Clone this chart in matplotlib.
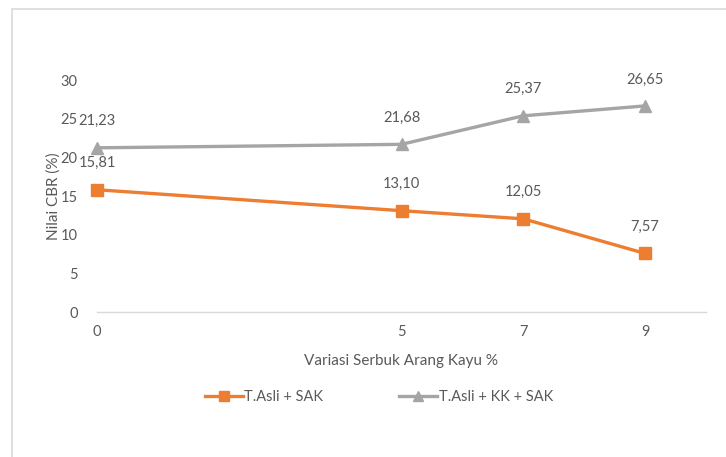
import matplotlib.pyplot as plt
from matplotlib.patches import Rectangle
from matplotlib.lines import Line2D

# Data
variasi = [0, 5, 7, 9]
asli_sak = [15.81, 13.10, 12.05, 7.57]
asli_kk_sak = [21.23, 21.68, 25.37, 26.65]
series_names = ["T.Asli + SAK", "T.Asli + KK + SAK"]
y_ticks = [0, 5, 10, 15, 20, 25, 30]

ORANGE = "#ED7D31"
GRAY = "#A5A5A5"
TEXT = "#595959"

plt.rcParams["font.family"] = ["Lato", "DejaVu Sans"]

fig = plt.figure(figsize=(7.26, 4.57), dpi=100)
W, H = 726, 457

# chart frame
fig.patches.append(Rectangle((12 / W, -0.05), 1.2, 1 - 9 / H + 0.05,
                             transform=fig.transFigure, fill=False,
                             edgecolor="#D9D9D9", linewidth=1.2))

ax = fig.add_axes([97 / W, 1 - 312 / H, (706 - 97) / W, (312 - 80) / H])
ax.set_xlim(0, 10)
ax.set_ylim(0, 30)

ax.plot(variasi, asli_sak, color=ORANGE, lw=2.4, marker="s", ms=9,
        label=series_names[0], clip_on=False)
ax.plot(variasi, asli_kk_sak, color=GRAY, lw=2.4, marker="^", ms=9,
        label=series_names[1], clip_on=False)

for xs, ys in ((variasi, asli_sak), (variasi, asli_kk_sak)):
    for x, y in zip(xs, ys):
        ax.annotate(f"{y:.2f}".replace(".", ","), (x, y), xytext=(0, 14),
                    textcoords="offset points", ha="center", va="bottom",
                    fontsize=10.5, color=TEXT)

for s in ("top", "right", "left"):
    ax.spines[s].set_visible(False)
ax.spines["bottom"].set_color("#D9D9D9")
ax.spines["bottom"].set_linewidth(1.0)

ax.set_xticks(variasi)
ax.set_xticklabels([str(v) for v in variasi])
ax.set_yticks(y_ticks)
ax.tick_params(axis="both", length=0, labelsize=10.5, colors=TEXT)
ax.tick_params(axis="x", pad=9)
ax.tick_params(axis="y", pad=14)

ax.set_xlabel("Variasi Serbuk Arang Kayu %", fontsize=11, color=TEXT, labelpad=11)
ax.set_ylabel("Nilai CBR (%)", fontsize=11, color=TEXT, labelpad=0)

handles = [Line2D([], [], color=ORANGE, lw=2.4, marker="s", ms=7),
           Line2D([], [], color=GRAY, lw=2.4, marker="^", ms=7)]
fig.legend(handles, series_names, loc="center", bbox_to_anchor=(379 / W, 1 - 397 / H),
           ncol=2, frameon=False, fontsize=10.5, labelcolor=TEXT,
           handlelength=2.6, handletextpad=0.1, columnspacing=5.2)

fig.savefig("out.png", dpi=100)
